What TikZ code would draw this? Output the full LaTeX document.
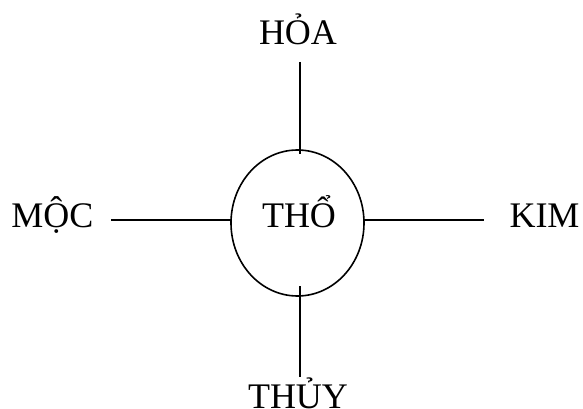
\documentclass[tikz,border=0pt]{standalone}
\usepackage{fontspec}
\setmainfont{Liberation Serif}
\usetikzlibrary{shapes.geometric}
\begin{document}
\begin{tikzpicture}[x=1pt,y=1pt,
  lbl/.style={anchor=base,inner sep=0pt,font=\fontsize{36}{40}\selectfont},
  conn/.style={line width=1.6pt}]
\useasboundingbox[fill=white] (0,0) rectangle (583,-409);
\node[ellipse,draw,line width=1.6pt,minimum width=133pt,minimum height=146pt,inner sep=0pt] (earth) at (297.5,-223) {};
\node[lbl] (tho) at (299,-227) {THỔ};
\node[lbl] (hoa) at (298,-45) {HỎA};
\node[lbl] (moc) at (52.5,-227) {MỘC};
\node[lbl] (kim) at (544.5,-227) {KIM};
\node[lbl] (thuy) at (298,-408.5) {THỦY};
\coordinate (ta) at (300,-62);
\coordinate (tb) at (300,-154);
\coordinate (ba) at (300,-286);
\coordinate (bb) at (300,-377);
\coordinate (la) at (111,-220);
\coordinate (lb) at (231,-220);
\coordinate (ra) at (364,-220);
\coordinate (rb) at (484,-220);
\draw[conn] (ta) -- (tb);
\draw[conn] (ba) -- (bb);
\draw[conn] (la) -- (lb);
\draw[conn] (ra) -- (rb);
\end{tikzpicture}
\end{document}
